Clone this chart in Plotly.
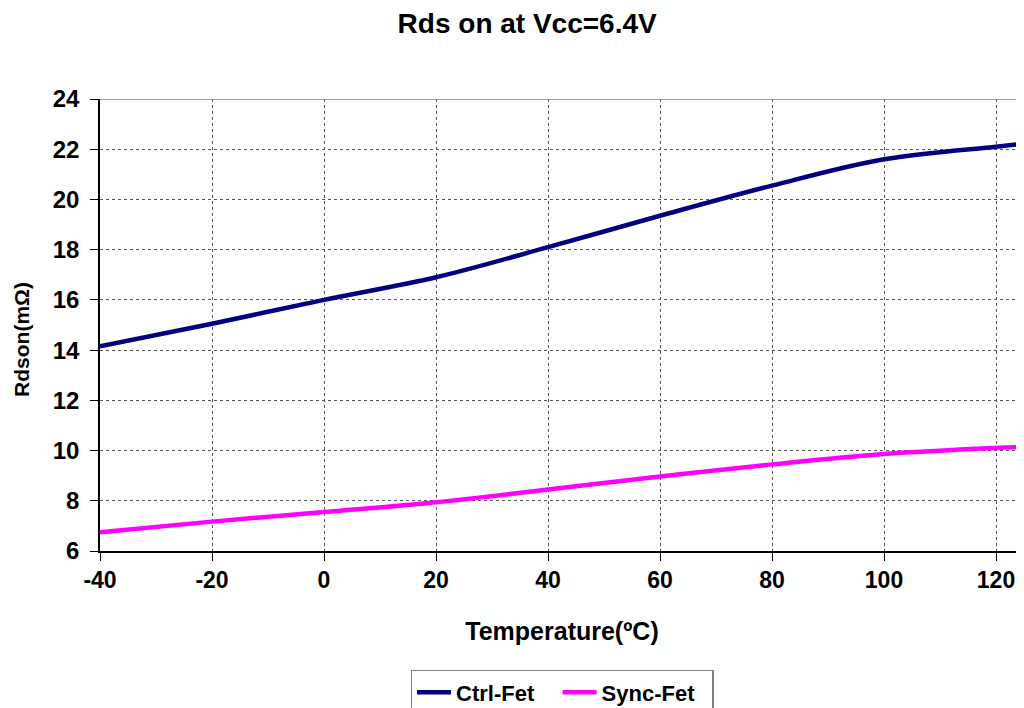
import plotly.graph_objects as go

temps = [-40, -20, 0, 20, 40, 60, 80, 100, 120, 125]
ctrl_fet = [14.15, 15.05, 16.0, 16.9, 18.1, 19.35, 20.55, 21.6, 22.1, 22.22]
sync_fet = [6.75, 7.17, 7.55, 7.94, 8.45, 8.97, 9.45, 9.86, 10.1, 10.14]

x_ticks = [-40, -20, 0, 20, 40, 60, 80, 100, 120]
y_ticks = [6, 8, 10, 12, 14, 16, 18, 20, 22, 24]

FONT = "Liberation Sans, Arial, sans-serif"

fig = go.Figure()
fig.add_trace(go.Scatter(x=temps, y=ctrl_fet, mode="lines", name="<b>Ctrl-Fet</b>&nbsp;&nbsp;&nbsp;",
                         line=dict(color="#000080", width=4.5, shape="spline")))
fig.add_trace(go.Scatter(x=temps, y=sync_fet, mode="lines", name="<b>Sync-Fet</b>&nbsp;&nbsp;",
                         line=dict(color="#FF00FF", width=4.5, shape="spline")))

fig.add_shape(type="line", xref="paper", yref="y", x0=0, x1=1, y0=24, y1=24,
              line=dict(color="#808080", width=1.5))

fig.add_annotation(text="<b>Rdson(mΩ)</b>", textangle=-90, xref="paper", yref="paper",
                   x=-0.0844, y=0.467, xanchor="center", yanchor="middle", showarrow=False,
                   font=dict(family=FONT, size=21, color="black"))

fig.update_layout(
    width=1016, height=700,
    paper_bgcolor="white", plot_bgcolor="white",
    margin=dict(l=92, r=0, t=91, b=157, autoexpand=False),
    title=dict(text="<b>Rds on at Vcc=6.4V</b>", x=0.511, xref="container", xanchor="center",
               y=0.992, yref="container", yanchor="top", pad=dict(t=0, b=0),
               font=dict(family=FONT, size=28, color="black")),
    font=dict(family=FONT, color="black"),
    showlegend=True,
    legend=dict(orientation="h", x=0.5, xanchor="center", y=-0.263, yanchor="top",
                bordercolor="#808080", borderwidth=1.5, bgcolor="white",
                font=dict(family=FONT, size=22, color="black"), itemwidth=34),
)

fig.update_xaxes(range=[-40, 125], tickvals=x_ticks, ticktext=[f"<b>{v}</b>" for v in x_ticks],
                 tickfont=dict(family=FONT, size=23, color="black"),
                 showline=True, linecolor="black", linewidth=1.5,
                 ticks="outside", ticklen=8, tickcolor="black",
                 showgrid=True, gridcolor="#555555", griddash="dot", gridwidth=1,
                 zeroline=False,
                 title=dict(text="<b>Temperature(ºC)</b>", font=dict(family=FONT, size=25, color="black"),
                            standoff=30))
fig.update_yaxes(range=[6, 24], tickvals=y_ticks, ticktext=[f"<b>{v}</b>" for v in y_ticks],
                 tickfont=dict(family=FONT, size=24, color="black"),
                 showline=True, linecolor="black", linewidth=1.5,
                 ticks="outside", ticklen=8, tickcolor="black", ticklabelstandoff=6,
                 showgrid=True, gridcolor="#555555", griddash="dot", gridwidth=1,
                 zeroline=False)

fig.write_html("out.html")
